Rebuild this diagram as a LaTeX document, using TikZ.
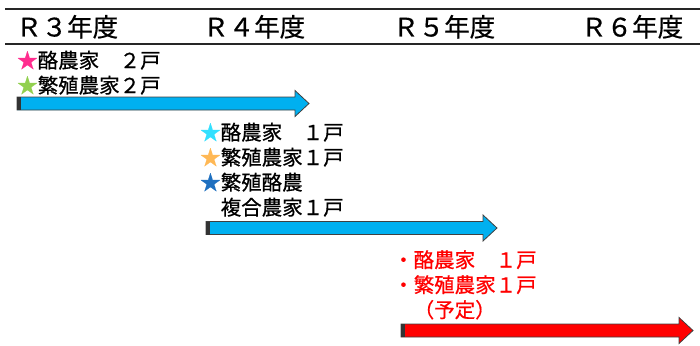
\documentclass[tikz,border=0pt]{standalone}
\usepackage{fontspec}
\setmainfont[FakeBold=0.6]{Noto Sans CJK JP}
\definecolor{arrowblue}{HTML}{00B0F0}
\definecolor{arrowred}{HTML}{FF0000}
\definecolor{starpink}{HTML}{FF2D8F}
\definecolor{stargreen}{HTML}{92D050}
\definecolor{starcyan}{HTML}{33E0FF}
\definecolor{starorange}{HTML}{FFB855}
\definecolor{starblue}{HTML}{1F70C0}
\definecolor{rowred}{HTML}{FF0000}
\newcommand{\timearrow}[5]{% name, x1, x2(tip), y, fill
  \coordinate (#1-s) at (#2,#4);
  \coordinate (#1-e) at (#3,#4);
  \fill[#5, draw=black!75, line width=0.8pt, line join=miter]
    (#2,#4-6.5) -- (#3-14,#4-6.5) -- (#3-14,#4-13) -- (#3,#4)
    -- (#3-14,#4+13) -- (#3-14,#4+6.5) -- (#2,#4+6.5) -- cycle;
  \fill[black!80] (#2,#4-6.5) rectangle (#2+4,#4+6.5);
}
\begin{document}
\begin{tikzpicture}[x=1pt,y=-1pt,
  header/.style={anchor=base west, inner sep=0pt, font=\fontsize{25.5}{25.5}\selectfont},
  rowtext/.style={anchor=base west, inner sep=0pt, font=\fontsize{20.5}{20.5}\selectfont},
  redtext/.style={rowtext, text=rowred},
  rule/.style={line width=2.2pt, black!85}]
\useasboundingbox (0,0) rectangle (700,345);
% header rules
\coordinate (tl) at (5,9);
\coordinate (tr) at (700,9);
\coordinate (bl) at (5,44);
\coordinate (br) at (700,44);
\draw[rule] (tl) -- (tr);
\draw[rule] (bl) -- (br);
% headers
\node[header] (h3) at (16,36.5) {Ｒ３年度};
\node[header] (h4) at (203,36.5) {Ｒ４年度};
\node[header] (h5) at (393,36.5) {Ｒ５年度};
\node[header] (h6) at (581,36.5) {Ｒ６年度};
% block 1
\node[rowtext] (a1) at (17,68) {\textcolor{starpink}{★}酪農家　２戸};
\node[rowtext] (a2) at (17,93) {\textcolor{stargreen}{★}繁殖農家２戸};
\timearrow{arr1}{17}{309}{103.5}{arrowblue}
% block 2
\node[rowtext] (b1) at (200,140) {\textcolor{starcyan}{★}酪農家　１戸};
\node[rowtext] (b2) at (200,165) {\textcolor{starorange}{★}繁殖農家１戸};
\node[rowtext] (b3) at (200,190) {\textcolor{starblue}{★}繁殖酪農};
\node[rowtext] (b4) at (200,215) {　複合農家１戸};
\timearrow{arr2}{206}{497}{228}{arrowblue}
% block 3
\node[redtext] (c1) at (393,267.5) {・酪農家　１戸};
\node[redtext] (c2) at (393,292.5) {・繁殖農家１戸};
\node[redtext] (c3) at (393,317.5) {　（予定）};
\timearrow{arr3}{401}{693}{330.5}{arrowred}
\end{tikzpicture}
\end{document}
